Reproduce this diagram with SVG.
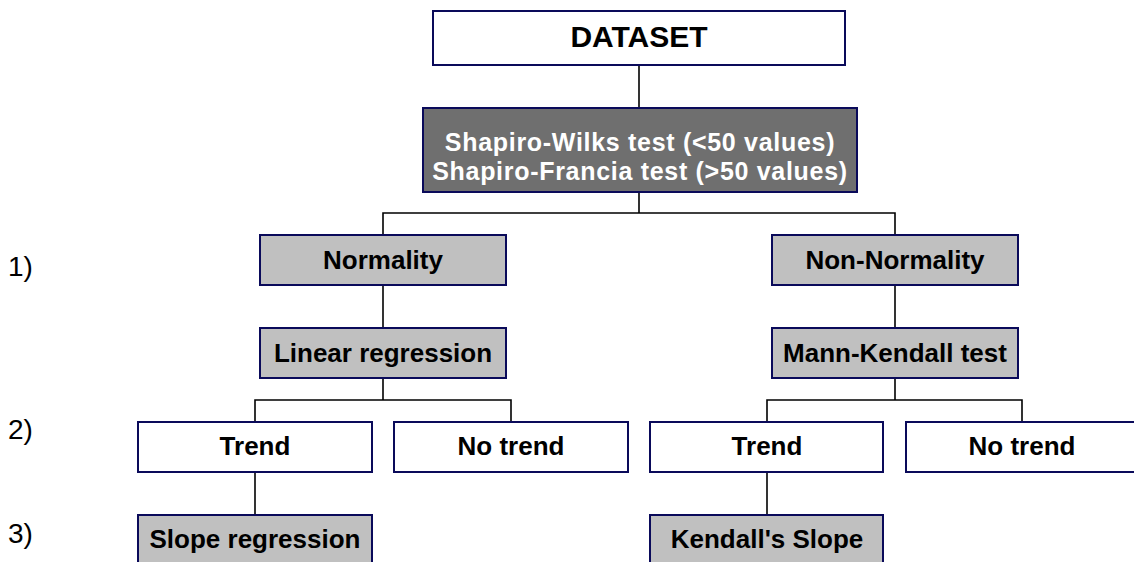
<svg xmlns="http://www.w3.org/2000/svg" width="1134" height="562" viewBox="0 0 1134 562">
<style>
  .box { stroke: #0a0a5a; stroke-width: 2; }
  .white { fill: #ffffff; }
  .gray { fill: #c0c0c0; }
  .dark { fill: #6f6f6f; }
  .lbl { font-family: "Liberation Sans", Arial, sans-serif; font-weight: bold; font-size: 26px; text-anchor: middle; fill: #000000; }
  .lblw { fill: #ffffff; font-size: 25px; letter-spacing: 0.7px; }
  .num { font-family: "Liberation Sans", Arial, sans-serif; font-size: 28px; fill: #000000; }
  .conn { stroke: #000000; stroke-width: 1.6; fill: none; }
</style>
<rect x="0" y="0" width="1134" height="562" fill="#ffffff"/>
<g id="connectors">
  <path class="conn" d="M639 65 V108"/>
  <path class="conn" d="M639 192 V213 M383 235 V213 H895 V235"/>
  <path class="conn" d="M383 285 V328"/>
  <path class="conn" d="M895 285 V328"/>
  <path class="conn" d="M383 378 V400 M255 422 V400 H511 V422"/>
  <path class="conn" d="M895 378 V400 M767 422 V400 H1022 V422"/>
  <path class="conn" d="M255 472 V515"/>
  <path class="conn" d="M767 472 V515"/>
</g>
<g id="levels">
  <text class="num" x="8" y="276">1)</text>
  <text class="num" x="8" y="439">2)</text>
  <text class="num" x="8" y="543">3)</text>
</g>
<g id="dataset">
  <rect class="box white" x="433" y="11" width="412" height="54"/>
  <text class="lbl" x="639" y="47" style="font-size:30px">DATASET</text>
</g>
<g id="shapiro">
  <rect class="box dark" x="423" y="108" width="434" height="84"/>
  <text class="lbl lblw" x="640" y="151">Shapiro-Wilks test (&lt;50 values)</text>
  <text class="lbl lblw" x="640" y="179.5">Shapiro-Francia test (&gt;50 values)</text>
</g>
<g id="normality">
  <rect class="box gray" x="260" y="235" width="246" height="50"/>
  <text class="lbl" x="383" y="269">Normality</text>
</g>
<g id="non-normality">
  <rect class="box gray" x="772" y="235" width="246" height="50"/>
  <text class="lbl" x="895" y="269">Non-Normality</text>
</g>
<g id="linear-regression">
  <rect class="box gray" x="260" y="328" width="246" height="50"/>
  <text class="lbl" x="383" y="362">Linear regression</text>
</g>
<g id="mann-kendall">
  <rect class="box gray" x="772" y="328" width="246" height="50"/>
  <text class="lbl" x="895" y="362">Mann-Kendall test</text>
</g>
<g id="trend-left">
  <rect class="box white" x="138" y="422" width="234" height="50"/>
  <text class="lbl" x="255" y="455">Trend</text>
</g>
<g id="notrend-left">
  <rect class="box white" x="394" y="422" width="234" height="50"/>
  <text class="lbl" x="511" y="455">No trend</text>
</g>
<g id="trend-right">
  <rect class="box white" x="650" y="422" width="233" height="50"/>
  <text class="lbl" x="767" y="455">Trend</text>
</g>
<g id="notrend-right">
  <rect class="box white" x="906" y="422" width="234" height="50"/>
  <text class="lbl" x="1022" y="455">No trend</text>
</g>
<g id="slope-regression">
  <rect class="box gray" x="138" y="515" width="234" height="50"/>
  <text class="lbl" x="255" y="548">Slope regression</text>
</g>
<g id="kendall-slope">
  <rect class="box gray" x="650" y="515" width="233" height="50"/>
  <text class="lbl" x="767" y="548">Kendall's Slope</text>
</g>
</svg>
